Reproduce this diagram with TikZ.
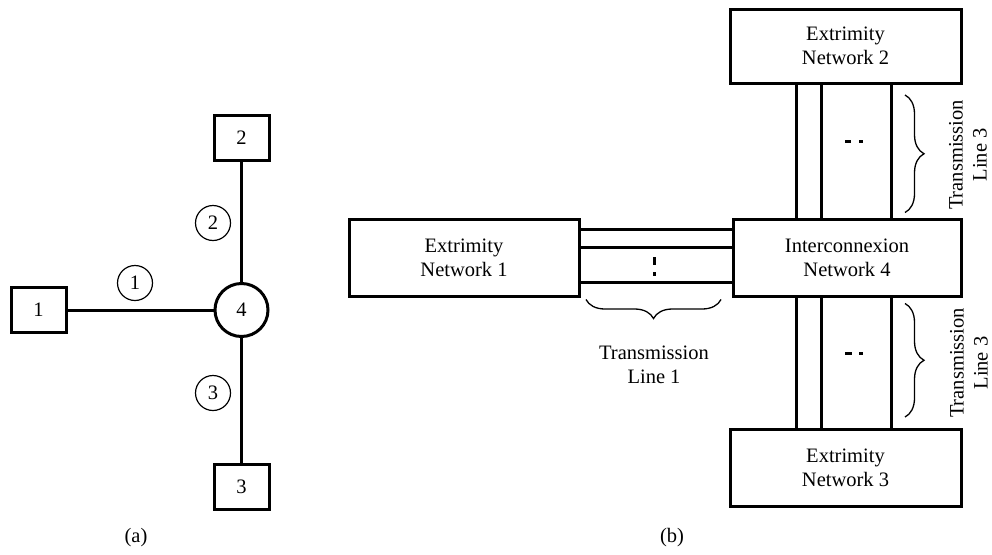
\documentclass[tikz,border=0pt]{standalone}
\usepackage{fontspec}
\setmainfont{Liberation Serif}
\usetikzlibrary{decorations.pathreplacing}

\begin{document}
\begin{tikzpicture}[x=1pt,y=1pt,line width=3pt]
\tikzstyle{every node}+=[inner sep=0pt,outer sep=0pt,font=\fontsize{20.5}{24}\selectfont]
\tikzstyle{bus}=[draw,minimum width=55,minimum height=45]
\tikzstyle{hub}=[draw,circle,minimum size=53]
\tikzstyle{tag}=[draw,circle,line width=1.2pt,minimum size=35]
\tikzstyle{net}=[draw,align=center,minimum width=230,minimum height=77]
\tikzstyle{brace}=[line width=1.3pt,decorate,decoration={brace,amplitude=19}]
\useasboundingbox (0,0) rectangle (992,-554);
% (a) single line view
\node [bus] (b1) at (38.5,-310) {1};
\node [bus] (b2) at (241.5,-137.5) {2};
\node [bus] (b3) at (241.5,-487) {3};
\node [hub] (n4) at (241.5,-310) {4};
\draw (b1) -- (n4);
\draw (b2) -- (n4);
\draw (n4) -- (b3);
\node [tag] (t1) at (135,-283) {1};
\node [tag] (t2) at (213,-223) {2};
\node [tag] (t3) at (213,-393) {3};
\node (capa) at (136,-538) {(a)};
% (b) detailed view
\node [net] (e1) at (464,-258) {Extrimity\\Network 1};
\node [net,minimum width=228] (i4) at (847,-258) {Interconnexion\\Network 4};
\node [net,minimum width=231,minimum height=74] (e2) at (845.5,-46) {Extrimity\\Network 2};
\node [net,minimum width=231] (e3) at (845.5,-467.5) {Extrimity\\Network 3};
\foreach \dy in {28.5,10.5,-24.5}
  \draw ([yshift=\dy]e1.east) -- ([yshift=\dy]e1.east -| i4.west);
\foreach \dx in {-49.5,-24.5,45.5} {
  \draw ([xshift=\dx]e2.south) -- ([xshift=\dx]e2.south |- i4.north);
  \draw ([xshift=\dx]e3.north) -- ([xshift=\dx]e3.north |- i4.south);
}
% dots for the omitted lines
\draw (654,-257) -- (654,-265);
\draw (654,-272) -- (654,-276);
\draw (845,-141) -- (851,-141);
\draw (859,-141) -- (863,-141);
\draw (845,-353) -- (852,-353);
\draw (859,-353) -- (863,-353);
% braces
\draw [brace] ([xshift=-12,yshift=-3]i4.south west) -- ([xshift=7,yshift=-3]e1.south east);
\draw [brace] ([xshift=-56,yshift=-12]e2.south east) -- ([xshift=-56,yshift=7]i4.north east);
\draw [brace] ([xshift=-56,yshift=-7]i4.south east) -- ([xshift=-56,yshift=12]e3.north east);
\node [align=center] (l1) at (654,-365) {Transmission\\Line 1};
\node [align=center,rotate=90] (l2) at (968,-155) {Transmission\\Line 3};
\node [align=center,rotate=90] (l3) at (969,-363) {Transmission\\Line 3};
\node (capb) at (672,-538) {(b)};
\end{tikzpicture}
\end{document}
